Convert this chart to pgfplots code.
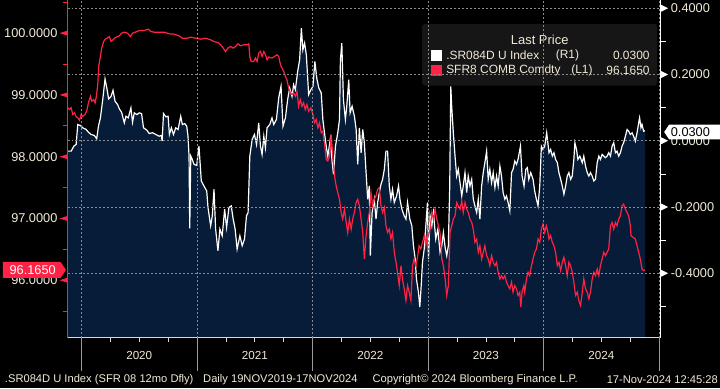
\documentclass[border=0pt]{standalone}
\usepackage{fontspec}
\setmainfont{Liberation Sans}
\usepackage{pgfplots}
\usepackage{pgfplotstable}
\usepgfplotslibrary{fillbetween}
\pgfplotsset{compat=1.18}
\definecolor{bbnavy}{HTML}{061C39}
\definecolor{bbred}{HTML}{FF2244}
\definecolor{bbtext}{HTML}{F2EAD8}
\definecolor{bbgrid}{HTML}{8A8A8A}
\definecolor{bblegend}{HTML}{161616}
\definecolor{bbsep}{HTML}{9A9A9A}

\pgfplotstableread{
x y
2019.882 -0.0313
2019.911 -0.0313
2019.934 -0.0162
2019.954 -0.0111
2019.968 0.0490
2019.991 0.0460
2020.011 0.0391
2020.041 0.0340
2020.060 0.0259
2020.084 0.0189
2020.112 0.0159
2020.132 0.0060
2020.147 0.0439
2020.164 0.0692
2020.184 0.1242
2020.192 0.1492
2020.204 0.1865
2020.222 0.1543
2020.235 0.1263
2020.256 0.1341
2020.273 0.1522
2020.291 0.1191
2020.313 0.1092
2020.328 0.0962
2020.347 0.0860
2020.371 0.0541
2020.385 0.0740
2020.405 0.0692
2020.428 0.0992
2020.442 0.0559
2020.457 0.0842
2020.480 0.0791
2020.500 0.0842
2020.520 0.0821
2020.537 0.0391
2020.566 0.0319
2020.586 0.0220
2020.615 0.0241
2020.644 0.0189
2020.672 0.0138
2020.692 0.0159
2020.698 -0.0012
2020.710 0.0821
2020.730 0.0722
2020.750 0.0740
2020.761 0.0189
2020.778 0.0391
2020.796 0.0189
2020.816 0.0391
2020.836 0.0340
2020.859 0.0740
2020.873 0.0490
2020.894 0.0520
2020.911 0.0439
2020.922 0.0138
2020.931 -0.0463
2020.937 -0.2647
2020.946 -0.0463
2020.959 -0.0562
2020.974 -0.0713
2020.997 -0.0743
2021.017 -0.0162
2021.037 -0.1215
2021.060 -0.1365
2021.084 -0.1516
2021.095 -0.2015
2021.118 -0.2568
2021.132 -0.2268
2021.147 -0.1465
2021.161 -0.2668
2021.181 -0.3320
2021.198 -0.2668
2021.218 -0.2869
2021.239 -0.2066
2021.256 -0.2617
2021.276 -0.2015
2021.296 -0.1967
2021.313 -0.2367
2021.330 -0.2668
2021.347 -0.3269
2021.371 -0.2869
2021.391 -0.3170
2021.411 -0.2968
2021.428 -0.2268
2021.442 -0.2165
2021.457 -0.0463
2021.477 0.0039
2021.497 0.0189
2021.515 -0.0111
2021.534 0.0541
2021.549 -0.0162
2021.563 -0.0412
2021.578 0.0138
2021.592 -0.0211
2021.606 0.0391
2021.629 0.0490
2021.649 0.0692
2021.664 0.0490
2021.687 0.0641
2021.707 0.1293
2021.727 0.1642
2021.744 0.0439
2021.765 0.0692
2021.784 0.1242
2021.802 0.1594
2021.822 0.1341
2021.836 0.1693
2021.851 0.1543
2021.871 0.2093
2021.888 0.2445
2021.903 0.3398
2021.916 0.2746
2021.931 0.2947
2021.946 0.2595
2021.966 0.1392
2021.985 0.1543
2022.003 0.1642
2022.020 0.2394
2022.037 0.1874
2022.054 0.1594
2022.075 0.1444
2022.089 0.0641
2022.103 0.0241
2022.118 -0.0162
2022.132 -0.0463
2022.153 0.0039
2022.170 -0.0662
2022.181 -0.1014
2022.198 -0.0162
2022.218 0.0241
2022.233 0.0641
2022.241 0.2445
2022.253 0.2947
2022.267 0.1242
2022.284 0.0641
2022.296 0.1041
2022.313 0.1844
2022.325 0.0842
2022.342 0.1041
2022.362 0.0740
2022.377 0.0340
2022.391 -0.0713
2022.405 0.0391
2022.420 -0.0361
2022.434 0.0340
2022.448 -0.0060
2022.463 -0.0962
2022.477 -0.1765
2022.491 -0.1365
2022.500 -0.3471
2022.515 -0.2165
2022.534 -0.1765
2022.549 -0.2367
2022.563 -0.1865
2022.578 -0.1564
2022.592 -0.1314
2022.606 -0.1164
2022.621 -0.0863
2022.635 -0.0313
2022.649 -0.0313
2022.664 -0.1365
2022.678 -0.1765
2022.692 -0.1465
2022.707 -0.1865
2022.727 -0.1666
2022.744 -0.1365
2022.756 -0.1765
2022.773 -0.2066
2022.793 -0.2268
2022.808 -0.2367
2022.822 -0.1865
2022.842 -0.2367
2022.859 -0.2568
2022.873 -0.3170
2022.888 -0.3570
2022.899 -0.4171
2022.916 -0.4571
2022.928 -0.5023
2022.940 -0.4373
2022.951 -0.3669
2022.966 -0.3269
2022.980 -0.2568
2022.994 -0.1865
2023.003 -0.3570
2023.017 -0.2268
2023.032 -0.2568
2023.046 -0.2165
2023.066 -0.2968
2023.084 -0.2668
2023.103 -0.3368
2023.118 -0.3170
2023.132 -0.2767
2023.147 -0.3218
2023.161 -0.3471
2023.175 -0.3170
2023.187 -0.1365
2023.196 0.1642
2023.204 0.1041
2023.218 0.0241
2023.233 -0.0463
2023.247 -0.1065
2023.261 -0.0863
2023.276 -0.1263
2023.291 -0.1666
2023.304 -0.1365
2023.319 -0.0962
2023.334 -0.1564
2023.347 -0.1065
2023.362 -0.1365
2023.377 -0.1164
2023.391 -0.1765
2023.405 -0.1967
2023.420 -0.2165
2023.434 -0.1765
2023.448 -0.2367
2023.463 -0.1365
2023.477 -0.0962
2023.491 -0.0662
2023.506 -0.0313
2023.520 -0.1164
2023.534 -0.0863
2023.549 -0.1263
2023.563 -0.0962
2023.578 -0.1414
2023.592 -0.1065
2023.606 -0.1365
2023.621 -0.0764
2023.635 -0.1065
2023.649 -0.1564
2023.664 -0.1765
2023.678 -0.1666
2023.692 -0.1865
2023.707 -0.2117
2023.722 -0.0962
2023.735 -0.0863
2023.750 -0.0614
2023.765 -0.0713
2023.778 -0.0562
2023.799 -0.0162
2023.813 -0.1065
2023.830 -0.1365
2023.845 -0.0863
2023.859 -0.0812
2023.871 -0.1164
2023.888 -0.0962
2023.908 -0.1164
2023.922 -0.1516
2023.937 -0.1765
2023.951 -0.1967
2023.966 -0.1365
2023.980 -0.0162
2023.994 -0.0262
2024.009 -0.0162
2024.026 0.0241
2024.046 -0.0361
2024.060 -0.0262
2024.075 -0.0463
2024.089 -0.0361
2024.103 -0.0562
2024.118 -0.0662
2024.132 -0.0962
2024.147 -0.1164
2024.161 -0.1365
2024.175 -0.1615
2024.190 -0.1365
2024.204 -0.1065
2024.218 -0.0962
2024.233 -0.1164
2024.247 -0.1065
2024.261 -0.0562
2024.270 -0.0060
2024.284 -0.0262
2024.296 -0.0562
2024.313 -0.0463
2024.334 -0.0662
2024.347 -0.0463
2024.362 -0.0764
2024.377 -0.0962
2024.391 -0.1065
2024.405 -0.0962
2024.420 -0.1065
2024.434 -0.1215
2024.448 -0.1164
2024.463 -0.0662
2024.477 -0.0463
2024.491 -0.0562
2024.506 -0.0412
2024.520 -0.0463
2024.534 -0.0511
2024.549 -0.0463
2024.563 -0.0361
2024.578 -0.0463
2024.592 -0.0162
2024.606 -0.0060
2024.621 -0.0361
2024.635 -0.0313
2024.649 -0.0463
2024.664 -0.0361
2024.678 -0.0162
2024.692 -0.0060
2024.707 0.0138
2024.722 0.0340
2024.735 0.0289
2024.750 0.0189
2024.765 0.0241
2024.778 0.0138
2024.793 -0.0012
2024.808 0.0241
2024.822 0.0541
2024.830 0.0692
2024.842 0.0391
2024.851 0.0490
2024.865 0.0289
2024.877 0.0300
}\whitedata

\pgfplotstableread{
x y
2019.882 98.790
2019.897 98.763
2019.911 98.790
2019.925 98.682
2019.940 98.710
2019.954 98.645
2019.968 98.629
2019.983 98.590
2019.997 98.682
2020.011 98.655
2020.032 98.682
2020.049 98.763
2020.060 98.871
2020.078 98.977
2020.089 98.897
2020.106 98.924
2020.118 98.871
2020.129 98.977
2020.141 99.166
2020.149 99.461
2020.164 99.623
2020.175 99.758
2020.192 99.865
2020.204 99.903
2020.222 99.919
2020.241 99.945
2020.256 99.865
2020.278 99.903
2020.299 99.935
2020.328 99.956
2020.347 100.000
2020.371 100.016
2020.399 100.000
2020.422 99.945
2020.442 100.000
2020.472 100.021
2020.500 100.042
2020.543 100.042
2020.578 100.065
2020.601 100.026
2020.629 100.016
2020.672 100.016
2020.716 100.016
2020.759 99.989
2020.802 99.984
2020.845 99.956
2020.873 99.919
2020.916 99.919
2020.946 99.935
2020.989 99.919
2021.032 99.903
2021.075 99.919
2021.118 99.892
2021.147 99.865
2021.181 99.848
2021.204 99.811
2021.227 99.758
2021.247 99.703
2021.267 99.758
2021.291 99.784
2021.313 99.758
2021.334 99.784
2021.353 99.827
2021.377 99.795
2021.405 99.811
2021.434 99.811
2021.448 99.827
2021.457 99.623
2021.468 99.542
2021.491 99.542
2021.506 99.597
2021.520 99.542
2021.534 99.677
2021.549 99.703
2021.563 99.623
2021.578 99.703
2021.592 99.650
2021.606 99.569
2021.621 99.613
2021.649 99.597
2021.670 99.623
2021.692 99.650
2021.707 99.623
2021.722 99.489
2021.735 99.435
2021.750 99.381
2021.765 99.300
2021.778 99.247
2021.793 99.113
2021.808 99.032
2021.822 99.005
2021.836 99.032
2021.851 98.977
2021.865 99.058
2021.879 98.816
2021.894 98.924
2021.908 98.816
2021.922 98.871
2021.937 98.763
2021.951 98.844
2021.966 98.735
2021.985 98.790
2022.003 98.682
2022.017 98.548
2022.032 98.602
2022.046 98.468
2022.060 98.548
2022.075 98.387
2022.089 98.413
2022.103 98.226
2022.118 97.956
2022.132 97.929
2022.147 98.010
2022.161 98.360
2022.175 98.010
2022.190 97.687
2022.204 97.526
2022.218 97.419
2022.233 97.311
2022.247 97.097
2022.261 96.989
2022.276 97.150
2022.291 96.935
2022.304 96.774
2022.319 96.989
2022.334 96.827
2022.347 96.989
2022.362 97.097
2022.377 97.258
2022.391 97.311
2022.405 97.203
2022.420 96.989
2022.434 96.774
2022.448 96.344
2022.463 96.719
2022.477 96.935
2022.491 97.097
2022.506 97.419
2022.520 97.203
2022.534 97.311
2022.549 97.365
2022.563 97.473
2022.578 97.500
2022.592 97.203
2022.606 97.097
2022.621 97.177
2022.635 96.881
2022.649 96.774
2022.664 96.827
2022.678 96.666
2022.692 96.774
2022.707 96.452
2022.722 96.290
2022.735 96.129
2022.750 95.913
2022.765 96.235
2022.778 96.021
2022.793 95.860
2022.808 95.671
2022.822 95.913
2022.836 95.806
2022.851 95.671
2022.865 96.235
2022.879 96.344
2022.894 96.235
2022.908 96.371
2022.922 96.558
2022.937 96.505
2022.951 96.613
2022.966 96.719
2022.980 96.558
2022.994 96.774
2023.003 96.719
2023.017 96.827
2023.032 97.097
2023.046 96.989
2023.060 97.150
2023.075 96.989
2023.089 96.881
2023.103 96.774
2023.118 96.344
2023.132 96.235
2023.147 96.021
2023.161 95.752
2023.175 95.913
2023.190 96.774
2023.204 96.881
2023.218 96.989
2023.233 97.042
2023.247 97.258
2023.261 97.203
2023.276 97.150
2023.291 97.284
2023.304 97.097
2023.319 97.258
2023.334 97.150
2023.347 97.097
2023.362 96.989
2023.377 96.935
2023.391 96.827
2023.405 96.613
2023.420 96.666
2023.434 96.452
2023.448 96.558
2023.463 96.344
2023.477 96.452
2023.491 96.558
2023.506 96.397
2023.520 96.344
2023.534 96.235
2023.549 96.397
2023.563 96.290
2023.578 96.235
2023.592 96.290
2023.606 96.129
2023.621 96.021
2023.635 96.074
2023.649 96.021
2023.664 96.074
2023.678 95.968
2023.692 95.913
2023.707 95.860
2023.722 95.968
2023.735 95.806
2023.750 95.913
2023.765 95.860
2023.778 95.752
2023.793 95.806
2023.802 95.565
2023.813 95.806
2023.828 95.913
2023.836 95.806
2023.851 96.021
2023.865 96.129
2023.879 96.074
2023.894 96.235
2023.908 96.344
2023.922 96.452
2023.937 96.505
2023.951 96.666
2023.966 96.613
2023.980 96.827
2023.994 96.908
2024.009 96.774
2024.023 96.881
2024.037 96.774
2024.046 96.666
2024.060 96.719
2024.075 96.613
2024.089 96.558
2024.103 96.452
2024.118 96.235
2024.132 96.290
2024.147 96.155
2024.161 96.290
2024.175 96.371
2024.190 96.235
2024.204 96.074
2024.218 96.290
2024.233 96.235
2024.247 96.129
2024.261 95.968
2024.276 95.752
2024.291 95.806
2024.304 95.671
2024.319 95.590
2024.334 95.806
2024.347 96.021
2024.362 95.860
2024.377 95.806
2024.391 95.698
2024.405 95.806
2024.420 96.021
2024.434 96.129
2024.448 96.074
2024.463 96.182
2024.477 96.074
2024.491 96.235
2024.506 96.344
2024.520 96.452
2024.534 96.397
2024.549 96.452
2024.563 96.505
2024.578 96.881
2024.592 96.935
2024.606 96.827
2024.621 96.935
2024.635 96.881
2024.649 96.989
2024.664 97.042
2024.678 97.203
2024.692 97.231
2024.707 97.150
2024.722 97.097
2024.735 97.042
2024.750 96.881
2024.756 96.719
2024.773 96.694
2024.793 96.666
2024.808 96.558
2024.822 96.452
2024.836 96.344
2024.851 96.182
2024.865 96.155
2024.877 96.165
}\reddata

\pgfplotsset{
  bbaxis/.style={
    at={(65pt,51pt)}, anchor=south west,
    scale only axis, width=595.5pt, height=339pt,
    xmin=2019.8793, xmax=2025.0129,
  },
  bbticks/.style={
    tick align=outside,
    major tick length=0pt,
    minor tick length=5pt,
  },
}

\begin{document}
\pagecolor{black}
\begin{tikzpicture}
% fill and grid
\begin{axis}[bbaxis,
  ymin=-0.5946, ymax=0.425,
  separate axis lines, axis line style={draw=none},
  xtick={2020,2021,2022,2023,2024,2025},
  ytick={-0.4,-0.2,0,0.2,0.4},
  xticklabels={}, yticklabels={},
  major tick length=0pt,
  grid=major,
  major grid style={bbgrid, dash pattern=on 2pt off 2pt, line width=0.6pt},
  axis on top]
\addplot[draw=none, name path=wtop] table {\whitedata};
\addplot[draw=none, name path=wbot] coordinates {(2019.882,-0.5946) (2024.877,-0.5946)};
\addplot[bbnavy] fill between[of=wtop and wbot];
\end{axis}

% right axis, white line
\begin{axis}[bbaxis, bbticks,
  ymin=-0.5946, ymax=0.425,
  axis x line=none, axis y line*=right,
  y axis line style={-, white, line width=0.8pt},
  ytick={-0.4,-0.2,0,0.2,0.4},
  minor ytick={-0.5,-0.3,-0.1,0.1,0.3},
  minor tick style={white, line width=0.6pt},
  yticklabel style={anchor=west, inner sep=0pt, xshift=10pt, text=bbtext,
    font=\fontsize{12.8}{14}\selectfont,
    /pgf/number format/.cd, fixed, fixed zerofill, precision=4, assume math mode=true}]
\addplot[white, line width=1.2pt] table {\whitedata};
\end{axis}

% left axis, red line, x axis
\begin{axis}[bbaxis, bbticks,
  ymin=95.069, ymax=100.537,
  axis x line*=bottom, axis y line*=left,
  x axis line style={-, white!85!black, line width=0.8pt},
  y axis line style={-, bbred, line width=1pt},
  xtick=\empty,
  ytick={96,97,98,99,100},
  minor ytick={95.5,96.5,97.5,98.5,99.5,100.5},
  minor tick style={bbred, line width=0.8pt},
  yticklabel style={anchor=east, inner sep=0pt, xshift=-10pt, text=bbtext,
    font=\fontsize{12.8}{14}\selectfont,
    /pgf/number format/.cd, fixed, fixed zerofill, precision=4, assume math mode=true}]
\addplot[bbred, line width=1.2pt] table {\reddata};
\end{axis}

% tick decorations (picture coordinates, pt)
\foreach \yy in {108.7,170.7,232.7,294.7,356.7} {
  \fill[bbred] (65pt,\yy pt+2.5pt) -- (57pt,\yy pt) -- (65pt,\yy pt-2.5pt) -- cycle;
}
\foreach \yy in {115.7,182.2,248.7,315.2,381.7} {
  \fill[white] (661pt,\yy pt+3.5pt) -- (668pt,\yy pt) -- (661pt,\yy pt-3.5pt) -- cycle;
}
\foreach \xx in {79,195,311,427,543,659} {
  \draw[bbsep, line width=0.8pt] (\xx pt,51pt) -- (\xx pt,18pt);
}
\foreach \xx in {108,137,166,224,253,282,340,369,398,456,485,514,572,601,630} {
  \draw[white!85!black, line width=0.8pt] (\xx pt,51pt) -- (\xx pt,47pt);
}
\foreach \xx/\yr in {137/2020,253/2021,369/2022,485/2023,601/2024} {
  \node[text=bbtext, font=\fontsize{11.7}{13}\selectfont, inner sep=0pt] at (\xx pt,33pt) {\yr};
}

% value tags
\fill[bbred] (0pt,111pt) -- (58pt,111pt) -- (63.5pt,119pt) -- (58pt,127pt) -- (0pt,127pt) -- cycle;
\node[text=white, font=\fontsize{12.8}{14}\selectfont, inner sep=0pt] at (30pt,119pt) {96.1650};
\fill[white] (664pt,257.5pt) -- (669pt,265pt) -- (720pt,265pt) -- (720pt,250pt) -- (669pt,250pt) -- cycle;
\node[text=black, font=\fontsize{12.8}{14}\selectfont, inner sep=0pt, anchor=west] at (670.5pt,257.5pt) {0.0300};

% legend
\fill[bblegend, rounded corners=3pt] (421pt,304pt) rectangle (657pt,366pt);
\node[text=bbtext, font=\fontsize{13}{14}\selectfont, inner sep=0pt] at (539pt,350pt) {Last Price};
\fill[white] (429.5pt,329pt) rectangle (441pt,340pt);
\fill[bbred] (429.5pt,313.5pt) rectangle (441pt,325pt);
\begin{scope}[every node/.style={text=bbtext, font=\fontsize{12}{14}\selectfont, inner sep=0pt}]
\node[anchor=west] at (445pt,334.5pt) {.SR084D U Index};
\node[anchor=west] at (555pt,334.5pt) {(R1)};
\node[anchor=east] at (649.5pt,334.5pt) {0.0300};
\node[anchor=west] at (445pt,319pt) {SFR8 COMB Comdty};
\node[anchor=west] at (570.5pt,319pt) {(L1)};
\node[anchor=east] at (649.5pt,319pt) {96.1650};
\end{scope}

% footer
\begin{scope}[every node/.style={text=bbtext, font=\fontsize{11.2}{13}\selectfont, inner sep=0pt}]
\node[anchor=west] at (2pt,9pt) {.SR084D U Index (SFR 08 12mo Dfly)};
\node[anchor=west] at (201pt,9pt) {Daily 19NOV2019-17NOV2024};
\node[anchor=west] at (371pt,9pt) {Copyright\textcopyright{} 2024 Bloomberg Finance L.P.};
\node[anchor=east] at (718pt,9pt) {17-Nov-2024 12:45:28};
\end{scope}
\pgfresetboundingbox
\path[use as bounding box] (0pt,0pt) rectangle (720pt,390pt);
\end{tikzpicture}
\end{document}
